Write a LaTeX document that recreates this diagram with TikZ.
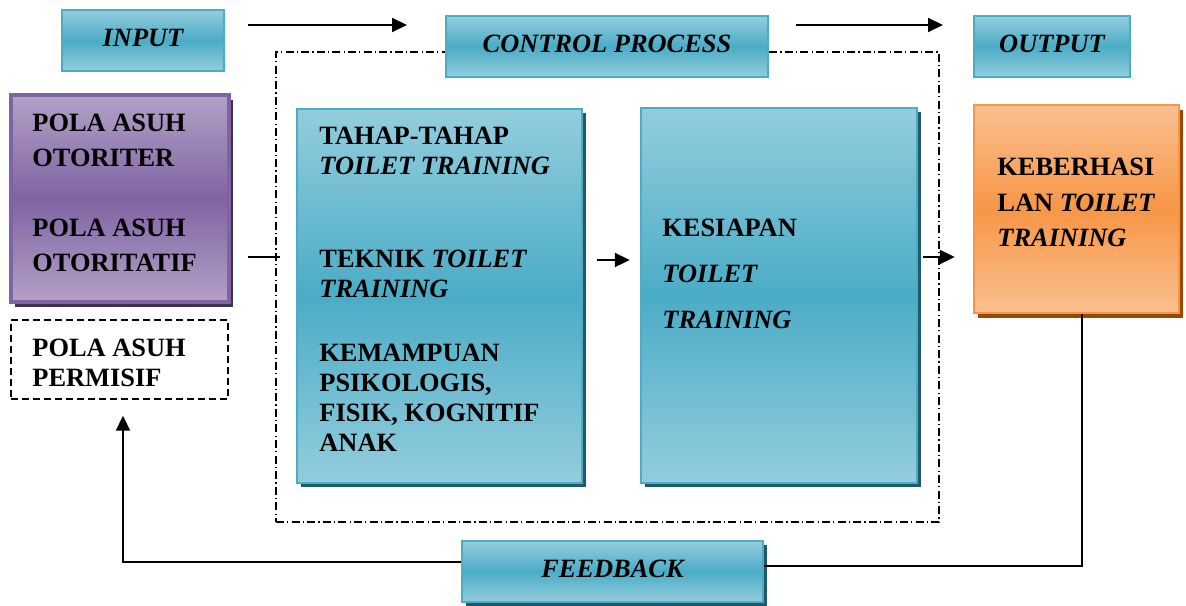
\documentclass[tikz,border=0pt]{standalone}
\usepackage{fontspec}
\setmainfont{Liberation Serif}
\usetikzlibrary{arrows.meta,fit,shadows}

\definecolor{tealL}{HTML}{93CDDD}
\definecolor{tealD}{HTML}{4BACC6}
\definecolor{tealS}{HTML}{215968}
\definecolor{orgL}{HTML}{FAC090}
\definecolor{orgD}{HTML}{F79646}
\definecolor{orgS}{HTML}{984807}
\definecolor{purL}{HTML}{B2A1C7}
\definecolor{purD}{HTML}{8064A2}
\definecolor{purS}{HTML}{3F3151}

\begin{document}
\begin{tikzpicture}[x=0.5pt,y=-0.5pt,>={Triangle[length=7.5pt,width=7pt]},
  box/.style={rectangle,inner sep=0pt,line width=1.2pt},
  tealbox/.style={box,draw=tealD,top color=tealL,bottom color=tealL,middle color=tealD},
  tshadow/.style={general shadow={fill=tealS,shadow xshift=2pt,shadow yshift=-2pt}},
  headtxt/.style={inner sep=0pt,yshift=1.5pt,font=\fontsize{13.2}{16}\selectfont\bfseries\itshape},
  txt/.style={anchor=north west,inner sep=0pt,align=left,font=\fontsize{13.2}{#1}\selectfont\bfseries},
  conn/.style={line width=1pt},
  dashdot/.style={line width=0.7pt,dash pattern=on 4pt off 1.6pt on 0.6pt off 1.6pt}]
\useasboundingbox (0,0) rectangle (1186,605);

% control process frame
\node[dashdot,draw,inner sep=0pt,fit={(276,52) (939,522)}] (ctrlframe) {};

% headings
\node[tealbox,fit={(62,10) (224,71)}] (input) {};
\node[headtxt] (inputtxt) at (input) {INPUT};
\node[tealbox,fit={(446,16) (768,77)}] (control) {};
\node[headtxt] (controltxt) at (control) {CONTROL PROCESS};
\node[tealbox,fit={(974,16) (1130,77)}] (output) {};
\node[headtxt] (outputtxt) at (output) {OUTPUT};
\node[tealbox,tshadow,fit={(462,541) (763,602)}] (feedback) {};
\node[headtxt] (feedbacktxt) at (feedback) {FEEDBACK};

% input boxes
\node[box,line width=1.6pt,draw=purD,top color=purL,bottom color=purL,middle color=purD,
  general shadow={fill=purS,shadow xshift=2pt,shadow yshift=-2.5pt},
  fit={(11,95) (229,302)}] (pola) {};
\node[txt=17.5] (polatxt) at (32,114) {POLA ASUH\\OTORITER\\[17.5pt]POLA ASUH\\OTORITATIF};
\node[box,line width=0.7pt,draw,dash pattern=on 3.5pt off 2pt,fit={(11,320) (228,399)}] (permisif) {};
\node[txt=15] (permtxt) at (32,339) {POLA ASUH\\PERMISIF};

% process boxes
\node[tealbox,tshadow,fit={(297,109) (582,483)}] (tahap) {};
\node[txt=15] (tahaptxt) at (319,127) {TAHAP-TAHAP\\\textit{TOILET TRAINING}\\[31.5pt]%
  TEKNIK \textit{TOILET}\\\textit{TRAINING}\\[17pt]%
  KEMAMPUAN\\PSIKOLOGIS,\\FISIK, KOGNITIF\\ANAK};
\node[tealbox,tshadow,fit={(641,108) (917,483)}] (siap) {};
\node[txt=23] (siaptxt) at (662,219) {KESIAPAN\\\textit{TOILET}\\\textit{TRAINING}};

% output box
\node[box,draw=orgD,top color=orgL,bottom color=orgL,middle color=orgD,
  general shadow={fill=orgS,shadow xshift=2pt,shadow yshift=-2.5pt},
  fit={(974,105) (1179,313)}] (hasil) {};
\node[txt=17.75] (hasiltxt) at (997,158) {KEBERHASI\\LAN \textit{TOILET}\\\textit{TRAINING}};

% connectors
\coordinate (inA) at (248,25);
\coordinate (inB) at (407,25);
\coordinate (cpA) at (796,25);
\coordinate (cpB) at (943,25);
\coordinate (polaA) at (248,257);
\coordinate (polaB) at (280,257);
\coordinate (rowA) at (0,260);
\coordinate (rowB) at (0,257);
\draw[conn,->] (inA) -- (inB);
\draw[conn,->] (cpA) -- (cpB);
\draw[conn] (polaA) -- (polaB);
\draw[conn,->,shorten <=7pt,shorten >=5pt] (tahap.east |- rowA) -- (siap.west |- rowA);
\draw[conn,->,shorten <=2.5pt,shorten >=9pt] (siap.east |- rowB) -- (hasil.west |- rowB);
\draw[conn] ([xshift=2.75pt]hasil.south) |- ([yshift=2.75pt]feedback.east);
\draw[conn,->,shorten >=8pt] ([yshift=4.75pt]feedback.west) -| ([xshift=1.75pt]permisif.south);
\end{tikzpicture}
\end{document}
